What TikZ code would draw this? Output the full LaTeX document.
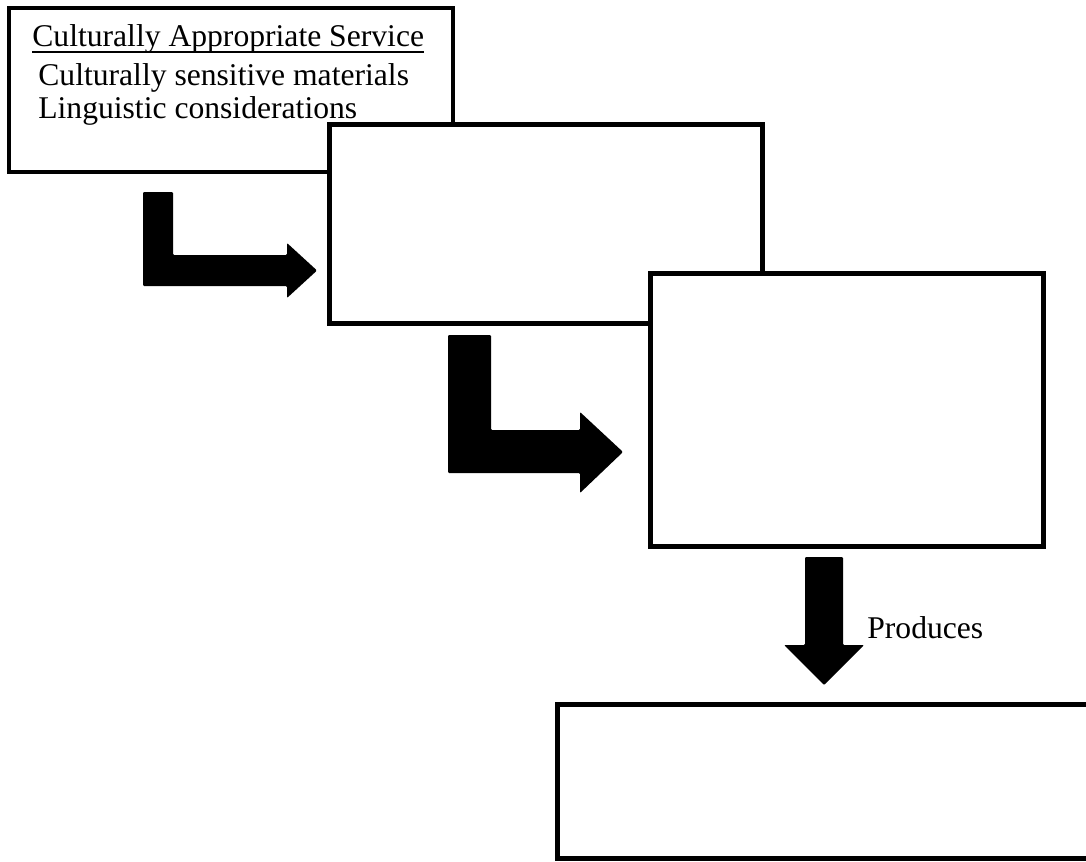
\documentclass[tikz,border=0pt]{standalone}
\usepackage{fontspec}
\setmainfont{Liberation Serif}
\usepackage{tikz}

\begin{document}
\begin{tikzpicture}[x = 0.02cm, y = -0.02cm,
	box/.style = {draw, fill = white, line width = 0.1cm, inner sep = 0pt},
	label/.style = {anchor = base west, inner sep = 0pt, font = \fontsize{18}{22}\selectfont},
	blockarrow/.style = {fill = black, rounded corners = 0.6pt}]
	\useasboundingbox (0, 0) rectangle (1086, 862);
	\node[box, line width = 0.07cm, minimum width = 8.88cm, minimum height = 3.28cm] (service) at (231, 90) {};
	\node[box, minimum width = 8.65cm, minimum height = 4cm] (second) at (546, 224) {};
	\node[box, minimum width = 7.88cm, minimum height = 5.48cm] (third) at (847, 410) {};
	\node[box, minimum width = 11.06cm, minimum height = 3.1cm] (outcome) at (833.5, 781.5) {};
	% bent arrows
	\fill[blockarrow] (143, 192) -- (173, 192) -- (173, 255) -- (287, 255) -- (287, 243) -- (317, 270.5) -- (287, 298) -- (287, 286) -- (143, 286) -- cycle;
	\fill[blockarrow] (448, 335) -- (491, 335) -- (491, 430) -- (580, 430) -- (580, 412) -- (623, 452) -- (580, 493) -- (580, 473) -- (448, 473) -- cycle;
	% down arrow
	\fill[blockarrow] (805, 557) -- (843, 557) -- (843, 645) -- (864, 645) -- (824, 685) -- (784, 645) -- (805, 645) -- cycle;
	\node[label] (produces) at (867, 638) {Produces};
	\node[label] (title) at (32, 46.7) {Culturally Appropriate Service};
	\draw[line width = 0.04cm] ([yshift = 1pt]title.south west) -- ([yshift = 1pt]title.south east);
	\node[label] (materials) at (38, 85) {Culturally sensitive materials};
	\node[label] (linguistic) at (38, 118.5) {Linguistic considerations};
\end{tikzpicture}
\end{document}
